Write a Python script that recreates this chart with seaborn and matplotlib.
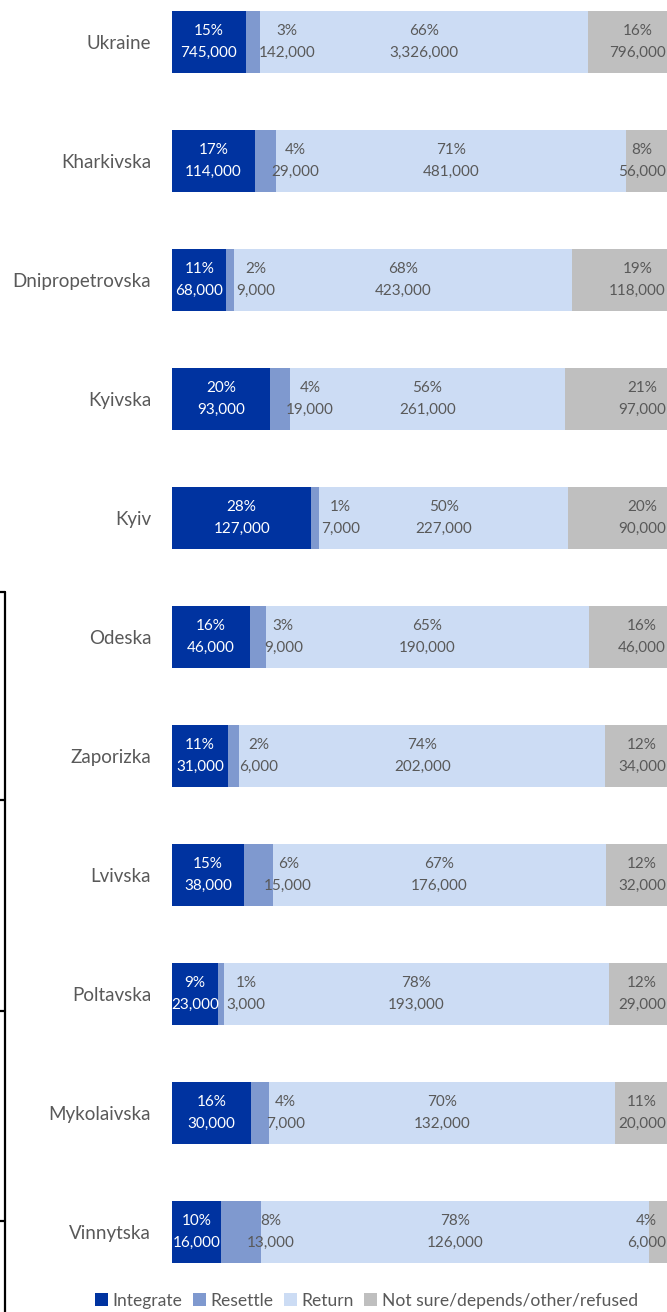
import matplotlib.pyplot as plt
import numpy as np
import pandas as pd
import seaborn as sns
from matplotlib.lines import Line2D
from matplotlib.patches import Patch

regions = ['Ukraine', 'Kharkivska', 'Dnipropetrovska', 'Kyivska', 'Kyiv', 'Odeska',
           'Zaporizka', 'Lvivska', 'Poltavska', 'Mykolaivska', 'Vinnytska']
categories = ['Integrate', 'Resettle', 'Return', 'Not sure/depends/other/refused']

integrate = [745000, 114000, 68000, 93000, 127000, 46000, 31000, 38000, 23000, 30000, 16000]
resettle = [142000, 29000, 9000, 19000, 7000, 9000, 6000, 15000, 3000, 7000, 13000]
ret = [3326000, 481000, 423000, 261000, 227000, 190000, 202000, 176000, 193000, 132000, 126000]
not_sure = [796000, 56000, 118000, 97000, 90000, 46000, 34000, 32000, 29000, 20000, 6000]

integrate_pct = [15, 17, 11, 20, 28, 16, 11, 15, 9, 16, 10]
resettle_pct = [3, 4, 2, 4, 1, 3, 2, 6, 1, 4, 8]
return_pct = [66, 71, 68, 56, 50, 65, 74, 67, 78, 70, 78]
not_sure_pct = [16, 8, 19, 21, 20, 16, 12, 12, 12, 11, 4]

colors = ['#0033a0', '#7f99cf', '#ccdcf4', '#bfbfbf']
TEXT = '#595959'


def main():
    sns.set_style('white')
    plt.rcParams['font.family'] = ['Lato', 'DejaVu Sans']

    counts = np.array([integrate, resettle, ret, not_sure], dtype=float)
    shares = counts / counts.sum(axis=0)
    cum = shares.cumsum(axis=0)
    pcts = [integrate_pct, resettle_pct, return_pct, not_sure_pct]
    vals = [integrate, resettle, ret, not_sure]

    fig = plt.figure(figsize=(6.67, 13.12), dpi=100)
    W, H = 667, 1312
    ax = fig.add_axes([172 / W, 1 - 1275 / H, (667 - 172) / W, 1275 / H])

    # draw the stack back to front, each layer as cumulative width
    for k in range(3, -1, -1):
        df = pd.DataFrame({'region': regions, 'width': cum[k]})
        sns.barplot(data=df, x='width', y='region', orient='h', color=colors[k],
                    width=0.52, saturation=1, ax=ax, linewidth=0)

    kw = dict(va='center', fontsize=11, linespacing=1.7, multialignment='center')
    for i in range(len(regions)):
        lab = lambda k: f'{pcts[k][i]}%\n{vals[k][i]:,}'
        ax.text(shares[0, i] / 2, i, lab(0), ha='center', color='white', **kw)
        c1 = cum[0, i] + shares[1, i] / 2
        ax.text(c1 + 0.012, i, lab(1), ha='left', color=TEXT, **kw)
        c2 = cum[1, i] + shares[2, i] / 2
        ax.text(c2, i, lab(2), ha='center', color=TEXT, **kw)
        ax.text(0.998, i, lab(3), ha='right', color=TEXT, **kw)

    ax.set_xlim(0, 1)
    ax.set_ylim(10 + (1275 - 1232) / 119, -42 / 119)
    ax.set_xlabel('')
    ax.set_ylabel('')
    ax.set_xticks([])
    ax.tick_params(axis='y', length=0, pad=15, labelsize=13.5, labelcolor=TEXT)
    sns.despine(ax=ax, left=True, bottom=True)

    handles = [Patch(facecolor=c, edgecolor='none') for c in colors]
    fig.legend(handles, categories, loc='center left', bbox_to_anchor=(95 / W, 1 - 1301 / H),
               ncol=4, frameon=False, fontsize=12.6, handlelength=0.75, handleheight=0.75,
               handletextpad=0.25, columnspacing=0.6, borderaxespad=0, borderpad=0,
               labelcolor=TEXT)

    # bracket fragment on the left edge
    x0 = 4.5 / W
    fig.add_artist(Line2D([x0, x0], [1 - 592 / H, 0], color='black', lw=1.6))
    for yy in [592, 800, 1011, 1221]:
        fig.add_artist(Line2D([0, x0], [1 - yy / H, 1 - yy / H], color='black', lw=1.6))

    fig.savefig('out.png', dpi=100)


if __name__ == '__main__':
    main()
